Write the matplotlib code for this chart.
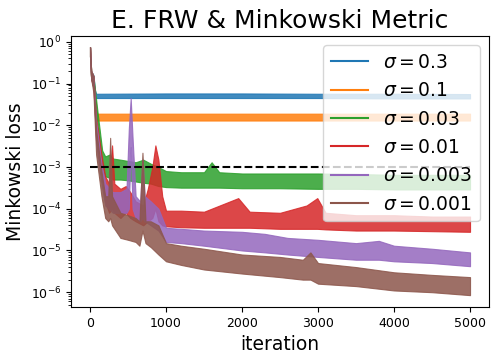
import numpy as np
import matplotlib
matplotlib.use("Agg")
from matplotlib import pyplot as plt
from matplotlib.lines import Line2D

# Loss bands (iteration checkpoints, low / high edge of the noisy curve)
sigmas = ["0.3", "0.1", "0.03", "0.01", "0.003", "0.001"]
colors = ["tab:blue", "tab:orange", "tab:green", "tab:red", "tab:purple", "tab:brown"]
threshold = 1e-3
iter_start, iter_end = 0, 5000

it_03 = [0, 15, 45, 65, 80, 1000, 2000, 3000, 4000, 5000]
lo_03 = [0.45, 0.13, 0.1, 0.045, 0.045, 0.045, 0.045, 0.045, 0.044, 0.044]
hi_03 = [0.75, 0.2, 0.16, 0.07, 0.057, 0.058, 0.058, 0.057, 0.057, 0.056]

it_01 = [0, 15, 45, 70, 90, 1000, 2000, 3000, 4000, 5000]
lo_01 = [0.45, 0.13, 0.08, 0.013, 0.013, 0.013, 0.013, 0.013, 0.013, 0.013]
hi_01 = [0.75, 0.2, 0.15, 0.03, 0.019, 0.019, 0.019, 0.019, 0.019, 0.019]

it_003 = [0, 15, 45, 100, 160, 200, 260, 300, 400, 500, 600, 700, 800, 900,
          1000, 1200, 1500, 1600, 1700, 2000, 2500, 3000, 3500, 4000, 4500, 5000]
lo_003 = [0.45, 0.13, 0.1, 0.01, 1e-3, 6e-4, 5.5e-4, 5e-4, 5e-4, 4.8e-4, 4.5e-4, 4.2e-4,
          4e-4, 3.5e-4, 3.3e-4, 3.2e-4, 3.2e-4, 3.2e-4, 3.2e-4, 3.1e-4, 3.1e-4, 3e-4,
          3e-4, 2.9e-4, 2.9e-4, 2.9e-4]
hi_003 = [0.75, 0.2, 0.15, 0.02, 2.5e-3, 1.8e-3, 2e-3, 1.6e-3, 1.5e-3, 1.4e-3, 1.3e-3,
          1.5e-3, 1.2e-3, 1e-3, 8e-4, 7.5e-4, 7.5e-4, 1.3e-3, 7.5e-4, 7e-4, 7e-4, 7e-4,
          6.8e-4, 6.5e-4, 6.5e-4, 6.5e-4]

it_001 = [0, 15, 45, 80, 150, 200, 250, 290, 320, 400, 470, 530, 600, 700, 760, 820,
          860, 900, 950, 1000, 1200, 1500, 1950, 2100, 2500, 2850, 2990, 3100, 3500,
          4000, 4500, 5000]
lo_001 = [0.45, 0.13, 0.08, 5e-3, 6e-4, 1.5e-4, 8e-5, 1e-4, 8e-5, 6e-5, 8e-5, 6e-5,
          5e-5, 4e-5, 5e-5, 6e-5, 1e-4, 5e-5, 4e-5, 3.8e-5, 3.6e-5, 3.5e-5, 3.5e-5,
          3.5e-5, 3.3e-5, 3.3e-5, 3.3e-5, 3.2e-5, 3e-5, 3e-5, 2.9e-5, 2.8e-5]
hi_001 = [0.75, 0.2, 0.15, 0.015, 2e-3, 6e-4, 4e-4, 3.3e-3, 4e-4, 3e-4, 3.5e-4, 2.5e-4,
          1.5e-4, 1.2e-4, 3e-4, 1e-3, 3.3e-3, 1.5e-3, 2e-4, 9e-5, 9e-5, 8.5e-5, 1.8e-4,
          8.5e-5, 8e-5, 1.2e-4, 1.8e-4, 8e-5, 7e-5, 7e-5, 6.5e-5, 6.5e-5]

it_0003 = [0, 15, 45, 80, 150, 200, 300, 400, 480, 510, 535, 560, 600, 660, 690, 720,
           800, 900, 1000, 1200, 1500, 2000, 2300, 2600, 3000, 3500, 3800, 4000, 4500, 5000]
lo_0003 = [0.45, 0.13, 0.08, 4e-3, 4e-4, 1.2e-4, 8e-5, 8e-5, 8e-5, 1e-4, 3e-3, 1e-4,
           6e-5, 5e-5, 6e-5, 5e-5, 4e-5, 3e-5, 1.6e-5, 1.5e-5, 1.3e-5, 1e-5, 9e-6, 8e-6,
           7e-6, 6e-6, 6e-6, 5.5e-6, 5e-6, 4.2e-6]
hi_0003 = [0.75, 0.2, 0.15, 0.012, 1.2e-3, 4e-4, 2.5e-4, 2.5e-4, 3e-4, 8e-3, 0.045, 5e-3,
           2e-4, 1.5e-4, 1.5e-3, 2e-4, 1.5e-4, 1e-4, 3.5e-5, 3.3e-5, 3e-5, 2.8e-5, 2.5e-5,
           2e-5, 1.8e-5, 1.5e-5, 1.7e-5, 1.3e-5, 1.1e-5, 9e-6]

it_0001 = [0, 15, 45, 80, 150, 200, 240, 265, 290, 400, 500, 600, 650, 690, 730, 800,
           900, 1000, 1200, 1500, 2000, 2500, 2800, 2900, 3000, 3500, 4000, 4500, 5000]
lo_0001 = [0.45, 0.13, 0.06, 2e-3, 2e-4, 6e-5, 5e-5, 6e-5, 4e-5, 2e-5, 1.8e-5, 1.6e-5,
           1.3e-5, 3e-5, 1.5e-5, 1.2e-5, 8e-6, 5.5e-6, 4.5e-6, 3.5e-6, 2.8e-6, 2.3e-6,
           2e-6, 2e-6, 1.6e-6, 1.4e-6, 1.1e-6, 1e-6, 8.5e-7]
hi_0001 = [0.75, 0.2, 0.15, 8e-3, 8e-4, 2e-4, 2e-4, 5e-3, 2e-4, 8e-5, 7e-5, 6e-5, 5e-5,
           2.2e-3, 5e-5, 5e-5, 4e-5, 1.5e-5, 1.3e-5, 1.1e-5, 8e-6, 7e-6, 6e-6, 9e-6,
           5e-6, 4e-6, 3e-6, 2.6e-6, 2.3e-6]

iters = [it_03, it_01, it_003, it_001, it_0003, it_0001]
lows = [lo_03, lo_01, lo_003, lo_001, lo_0003, lo_0001]
highs = [hi_03, hi_01, hi_003, hi_001, hi_0003, hi_0001]

# Plot Data
fig = plt.figure(figsize=(4.98, 3.6), dpi=100)
ax = fig.add_axes([0.1426, 0.147, 0.8394, 0.753])

handles = []
for it, lo, hi, c, s in zip(iters, lows, highs, colors, sigmas):
    ax.fill_between(it, lo, hi, color=c, alpha=0.85, linewidth=0.8)
    handles.append(Line2D([], [], color=c, lw=1.5, label=r"$\sigma = %s$" % s))

ax.hlines(threshold, iter_start, iter_end, colors="k", linestyles="--", lw=1.5)

# Format plot
ax.set_yscale("log")
ax.set_xlim(-250, 5250)
ax.set_ylim(4.4e-7, 1.38)
ax.set_title("E. FRW & Minkowski Metric", fontsize=18)
ax.set_xlabel("iteration", fontsize=13.5)
ax.set_ylabel("Minkowski loss", fontsize=13.5)
ax.tick_params(axis="both", which="major", labelsize=9)
ax.legend(handles=handles, loc="upper right", fontsize=13.5)

fig.savefig("out.png", dpi=100)
